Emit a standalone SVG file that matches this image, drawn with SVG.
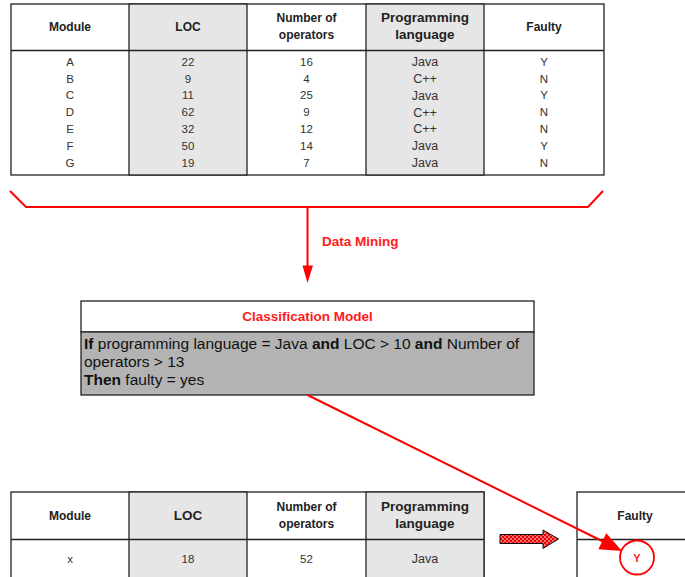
<svg xmlns="http://www.w3.org/2000/svg" width="685" height="577" viewBox="0 0 685 577">
  <defs>
    <style>
      .cell { fill: #ffffff; stroke: #222222; stroke-width: 1.3; }
      .shade { fill: #e6e6e6; stroke: #222222; stroke-width: 1.3; }
      .grid { stroke: #222222; stroke-width: 1.3; fill: none; }
      .hdr { font-family: "Liberation Sans", Arial, sans-serif; font-weight: bold; font-size: 12px; fill: #222222; text-anchor: middle; }
      .hdr-lg { font-family: "Liberation Sans", Arial, sans-serif; font-weight: bold; font-size: 13.5px; fill: #222222; text-anchor: middle; }
      .val { font-family: "Liberation Sans", Arial, sans-serif; font-size: 11.5px; fill: #333333; text-anchor: middle; }
      .val-lg { font-family: "Liberation Sans", Arial, sans-serif; font-size: 12.5px; fill: #333333; text-anchor: middle; }
      .red-lbl { font-family: "Liberation Sans", Arial, sans-serif; font-weight: bold; font-size: 13.5px; fill: #ff1a1a; }
      .rule { font-family: "Liberation Sans", Arial, sans-serif; font-size: 15.5px; fill: #111111; }
      .wire { stroke: #ff0000; stroke-width: 2; fill: none; }
    </style>
    <pattern id="dots" width="4" height="4" patternUnits="userSpaceOnUse">
      <rect width="4" height="4" fill="#ee0000"/>
      <circle cx="1" cy="1" r="0.8" fill="#ffffff"/>
      <circle cx="3" cy="3" r="0.8" fill="#ffffff"/>
    </pattern>
  </defs>

  <!-- Training data table -->
  <g id="training-table">
    <rect class="cell" x="11" y="4" width="593" height="171"/>
    <rect class="shade" x="129" y="4" width="118" height="171"/>
    <rect class="shade" x="366" y="4" width="118" height="171"/>
    <line class="grid" x1="11" y1="50.5" x2="604" y2="50.5"/>
    <text class="hdr" x="70" y="31">Module</text>
    <text class="hdr" x="188" y="31">LOC</text>
    <text class="hdr" x="306.5" y="22">Number of</text>
    <text class="hdr" x="306.5" y="39">operators</text>
    <text class="hdr-lg" x="425" y="22">Programming</text>
    <text class="hdr-lg" x="425" y="39">language</text>
    <text class="hdr" x="544" y="31">Faulty</text>

    <g class="val">
      <text x="70" y="65.7">A</text><text x="70" y="82.5">B</text><text x="70" y="99.3">C</text><text x="70" y="116.2">D</text><text x="70" y="133">E</text><text x="70" y="149.8">F</text><text x="70" y="166.7">G</text>
      <text x="188" y="65.7">22</text><text x="188" y="82.5">9</text><text x="188" y="99.3">11</text><text x="188" y="116.2">62</text><text x="188" y="133">32</text><text x="188" y="149.8">50</text><text x="188" y="166.7">19</text>
      <text x="306.5" y="65.7">16</text><text x="306.5" y="82.5">4</text><text x="306.5" y="99.3">25</text><text x="306.5" y="116.2">9</text><text x="306.5" y="133">12</text><text x="306.5" y="149.8">14</text><text x="306.5" y="166.7">7</text>
      <text x="544" y="65.7">Y</text><text x="544" y="82.5">N</text><text x="544" y="99.3">Y</text><text x="544" y="116.2">N</text><text x="544" y="133">N</text><text x="544" y="149.8">Y</text><text x="544" y="166.7">N</text>
    </g>
    <g class="val-lg">
      <text x="425" y="66">Java</text><text x="425" y="82.8">C++</text><text x="425" y="99.6">Java</text><text x="425" y="116.5">C++</text><text x="425" y="133.3">C++</text><text x="425" y="150.1">Java</text><text x="425" y="167">Java</text>
    </g>
  </g>

  <!-- Classification model box -->
  <g id="classification-model">
    <rect x="81" y="301" width="453" height="31" fill="#ffffff" stroke="#222222" stroke-width="1.3"/>
    <rect x="81" y="332" width="453" height="63" fill="#b3b3b3" stroke="#222222" stroke-width="1.3"/>
    <text class="red-lbl" x="307.5" y="321" text-anchor="middle">Classification Model</text>
    <text class="rule" x="84" y="349"><tspan font-weight="bold">If</tspan> programming language = Java <tspan font-weight="bold">and</tspan> LOC &gt; 10 <tspan font-weight="bold">and</tspan> Number of</text>
    <text class="rule" x="84" y="367">operators &gt; 13</text>
    <text class="rule" x="84" y="385"><tspan font-weight="bold">Then</tspan> faulty = yes</text>
  </g>

  <!-- New module table -->
  <g id="new-module-table">
    <rect class="cell" x="11" y="492" width="473" height="100"/>
    <rect class="shade" x="129" y="492" width="118" height="100"/>
    <rect class="shade" x="366" y="492" width="118" height="100"/>
    <line class="grid" x1="11" y1="539.5" x2="484" y2="539.5"/>
    <text class="hdr" x="70" y="520">Module</text>
    <text class="hdr-lg" x="188" y="520">LOC</text>
    <text class="hdr" x="306.5" y="511">Number of</text>
    <text class="hdr" x="306.5" y="528">operators</text>
    <text class="hdr-lg" x="425" y="511">Programming</text>
    <text class="hdr-lg" x="425" y="528">language</text>
    <text class="val" x="70" y="563">x</text>
    <text class="val" x="188" y="563">18</text>
    <text class="val" x="306.5" y="563">52</text>
    <text class="val-lg" x="425" y="563">Java</text>
  </g>

  <!-- Predicted result -->
  <g id="prediction">
    <rect class="cell" x="577" y="492" width="120" height="100"/>
    <line class="grid" x1="577" y1="539.5" x2="685" y2="539.5"/>
    <text class="hdr" x="635" y="520">Faulty</text>
    <circle cx="637" cy="557.5" r="17" fill="none" stroke="#ff0000" stroke-width="1.8"/>
    <text x="637" y="562" text-anchor="middle" font-family="'Liberation Sans', Arial, sans-serif" font-size="11px" font-weight="bold" fill="#ff1a1a">Y</text>
  </g>

  <!-- Connectors -->
  <g id="connectors">
    <polyline class="wire" points="10,191 26,207 588,207 603,191"/>
    <line class="wire" x1="307.5" y1="207" x2="307.5" y2="267"/>
    <polygon points="302.5,265.5 313,265.5 307.5,283" fill="#ff0000"/>
    <text class="red-lbl" x="322" y="246">Data Mining</text>
    <line class="wire" x1="307.5" y1="395" x2="604" y2="542"/>
    <polygon points="622,551 598.3,549.2 606.3,533.2" fill="#ff0000"/>
    <polygon points="500,534.5 543,534.5 543,530 558.5,539 543,548.5 543,543.5 500,543.5" fill="url(#dots)" stroke="#111111" stroke-width="1"/>
  </g>
</svg>
